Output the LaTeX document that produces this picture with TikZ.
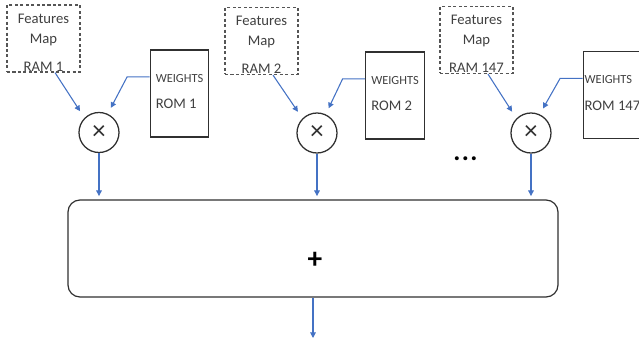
\documentclass[tikz,border=0pt]{standalone}
\usepackage{fontspec}
\setmainfont{Carlito}
\usetikzlibrary{arrows.meta,calc}
\definecolor{arrowblue}{HTML}{4472C4}
\definecolor{boxgray}{HTML}{303030}
\definecolor{dashgray}{HTML}{555555}
\definecolor{textgray}{HTML}{404040}
\begin{document}
\begin{tikzpicture}[x=0.75pt,y=-0.75pt,
 rambox/.style={draw=dashgray, dash pattern=on 2.3pt off 1.8pt, line width=0.85pt,
   minimum width=54.75pt, minimum height=50.25pt, align=center, inner sep=0pt,
   font=\fontsize{11}{15}\selectfont, text=textgray},
 rombox/.style={draw=boxgray, line width=0.9pt, minimum width=44pt, minimum height=65.25pt,
   align=left, inner sep=0pt, font=\fontsize{11}{13}\selectfont, text=textgray},
 mulnode/.style={circle, draw=boxgray, line width=0.95pt, minimum size=30pt, inner sep=0pt,
   font=\fontsize{20}{20}\selectfont, text=boxgray},
 sumbox/.style={draw=boxgray, line width=0.9pt, rounded corners=9pt,
   minimum width=367.5pt, minimum height=72.75pt, inner sep=0pt,
   font=\fontsize{22}{22}\selectfont\bfseries},
 arr/.style={draw=arrowblue, line width=0.8pt, -{Triangle[length=4.2pt,width=4.2pt]}}
]
\useasboundingbox (0,0) rectangle (639,345);

% feature map RAMs
\node[rambox] (ram1) at (43.5,38.5) {\rule{0pt}{13pt}Features\\Map\\[6pt]RAM 1};
\node[rambox] (ram2) at (261.5,41) {\rule{0pt}{13pt}Features\\Map\\[6pt]RAM 2};
\node[rambox] (ram3) at (476.5,40) {\rule{0pt}{13pt}Features\\Map\\[6pt]RAM 147};

% weight ROMs
\node[rombox] (rom1) at (179.5,93.5) {{\fontsize{9.3}{11}\selectfont WEIGHTS}\\[7pt]ROM 1\rule[-3pt]{0pt}{0pt}};
\node[rombox] (rom2) at (395,95.5) {{\fontsize{9.3}{11}\selectfont WEIGHTS}\\[7pt]ROM 2\rule[-3pt]{0pt}{0pt}};
\node[rombox] (rom3) at (612.5,95) {{\fontsize{9.3}{11}\selectfont WEIGHTS}\\[7pt]ROM 147\rule[-3pt]{0pt}{0pt}};

% multipliers
\node[mulnode] (mul1) at (99,132.5) {×};
\node[mulnode] (mul2) at (317,133) {×};
\node[mulnode] (mul3) at (531,133) {×};

% dots
\node[font=\fontsize{20}{20}\selectfont\bfseries] (dots) at (465.5,159) {.\hspace{1pt}.\hspace{1pt}.};

% adder
\node[sumbox] (sum) at (313,248.5) {\smash{\raisebox{-14.8pt}{\hspace*{3pt}+}}};
\coordinate (out) at (313,338);

% connectors
\foreach \i in {1,2,3}{
  \draw[arr, shorten >=6pt] ([xshift=8.6pt]ram\i.south) -- (mul\i.135);
  \draw[arr, shorten >=5pt] ([yshift=12.4pt]rom\i.west) -- ++(-22.5,0) -- (mul\i.65);
  \draw[arr, shorten >=2.5pt] (mul\i.south) -- (mul\i.south |- sum.north);
}
\draw[arr] (sum.south) -- (out);
\end{tikzpicture}
\end{document}
